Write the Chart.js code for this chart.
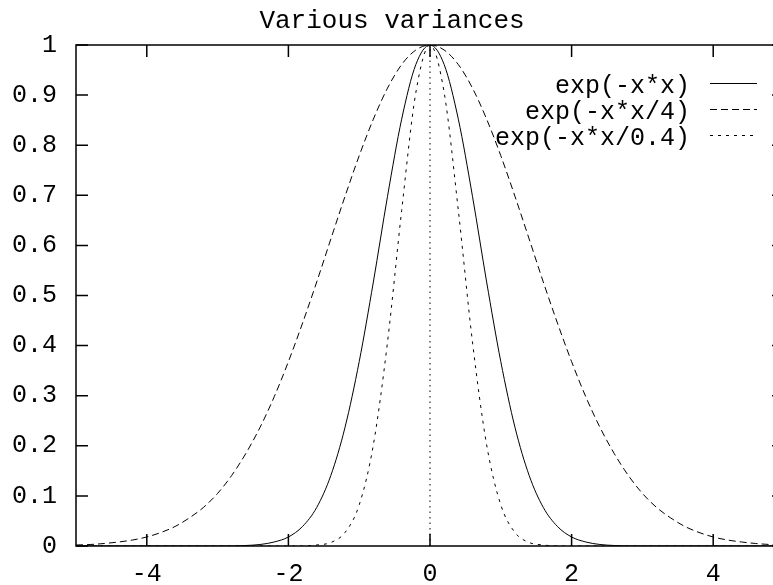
<!DOCTYPE html>
<html>
<head>
<meta charset="utf-8">
<title>Various variances</title>
<script src="https://cdn.jsdelivr.net/npm/chart.js@4.4.0/dist/chart.umd.min.js"></script>
<style>
    html, body { margin: 0; padding: 0; background: #fff; overflow: hidden; }
    #wrap { width: 800px; height: 585px; }
</style>
</head>
<body>
<div id="wrap"><canvas id="grafico" width="800" height="585"></canvas></div>
<script>
// x positions sampled every 0.2 from -5 to 5
const xValores = [-5, -4.8, -4.6, -4.4, -4.2, -4, -3.8, -3.6, -3.4, -3.2, -3, -2.8, -2.6, -2.4, -2.2, -2, -1.8, -1.6, -1.4, -1.2, -1, -0.8, -0.6, -0.4, -0.2,
    0, 0.2, 0.4, 0.6, 0.8, 1, 1.2, 1.4, 1.6, 1.8, 2, 2.2, 2.4, 2.6, 2.8, 3, 3.2, 3.4, 3.6, 3.8, 4, 4.2, 4.4, 4.6, 4.8, 5];

const curvaAncho1 = [0, 0, 0, 0, 0, 0, 0, 0, 0, 0, 0, 0, 0.001, 0.003, 0.008, 0.018, 0.039, 0.077, 0.141, 0.237, 0.368, 0.527, 0.698, 0.852, 0.961,
    1, 0.961, 0.852, 0.698, 0.527, 0.368, 0.237, 0.141, 0.077, 0.039, 0.018, 0.008, 0.003, 0.001, 0, 0, 0, 0, 0, 0, 0, 0, 0, 0, 0, 0];

const curvaAncho4 = [0.002, 0.003, 0.005, 0.008, 0.012, 0.018, 0.027, 0.039, 0.056, 0.077, 0.105, 0.141, 0.185, 0.237, 0.298, 0.368, 0.445, 0.527, 0.613, 0.698, 0.779, 0.852, 0.914, 0.961, 0.990,
    1, 0.990, 0.961, 0.914, 0.852, 0.779, 0.698, 0.613, 0.527, 0.445, 0.368, 0.298, 0.237, 0.185, 0.141, 0.105, 0.077, 0.056, 0.039, 0.027, 0.018, 0.012, 0.008, 0.005, 0.003, 0.002];

const curvaAncho04 = [0, 0, 0, 0, 0, 0, 0, 0, 0, 0, 0, 0, 0, 0, 0, 0, 0, 0.002, 0.007, 0.027, 0.082, 0.202, 0.407, 0.670, 0.905,
    1, 0.905, 0.670, 0.407, 0.202, 0.082, 0.027, 0.007, 0.002, 0, 0, 0, 0, 0, 0, 0, 0, 0, 0, 0, 0, 0, 0, 0, 0, 0];

const etiquetas = ['exp(-x*x)', 'exp(-x*x/4)', 'exp(-x*x/0.4)'];
const titulo = 'Various variances';
const ticksX = [-4, -2, 0, 2, 4];
const ticksY = [0, 0.1, 0.2, 0.3, 0.4, 0.5, 0.6, 0.7, 0.8, 0.9, 1];

const fuente = "'Liberation Mono', 'DejaVu Sans Mono', monospace";

function aPuntos(ys) {
    return xValores.map((x, i) => ({ x: x, y: ys[i] }));
}

// frame, inward ticks, zero axis and the gnuplot style key
const marcoPlugin = {
    id: 'marco',
    beforeDatasetsDraw(chart) {
        const ctx = chart.ctx;
        const x0 = chart.scales.x.getPixelForValue(0);
        ctx.save();
        ctx.strokeStyle = '#000';
        ctx.lineWidth = 1;
        ctx.setLineDash([1.5, 4]);
        ctx.beginPath();
        ctx.moveTo(x0, chart.scales.y.getPixelForValue(0));
        ctx.lineTo(x0, chart.scales.y.getPixelForValue(1));
        ctx.stroke();
        ctx.restore();
    },
    afterDatasetsDraw(chart) {
        const ctx = chart.ctx;
        const { left, right, top, bottom } = chart.chartArea;
        const largo = 12;
        ctx.save();
        ctx.strokeStyle = '#000';
        ctx.lineWidth = 1.5;
        ctx.setLineDash([]);
        ctx.strokeRect(left, top, right - left, bottom - top);

        ctx.beginPath();
        ticksX.forEach(v => {
            const px = chart.scales.x.getPixelForValue(v);
            ctx.moveTo(px, bottom);
            ctx.lineTo(px, bottom - largo);
            ctx.moveTo(px, top);
            ctx.lineTo(px, top + largo);
        });
        ticksY.forEach(v => {
            const py = chart.scales.y.getPixelForValue(v);
            ctx.moveTo(left, py);
            ctx.lineTo(left + largo, py);
            ctx.moveTo(right, py);
            ctx.lineTo(right - largo, py);
        });
        ctx.stroke();

        // key
        ctx.font = '25px ' + fuente;
        ctx.fillStyle = '#000';
        ctx.textAlign = 'right';
        ctx.textBaseline = 'middle';
        chart.data.datasets.forEach((ds, i) => {
            const fila = 83.5 + i * 26;
            ctx.fillText(ds.label, 690, fila + 3);
            ctx.lineWidth = 1;
            ctx.setLineDash(ds.borderDash || []);
            ctx.beginPath();
            ctx.moveTo(710, fila);
            ctx.lineTo(757, fila);
            ctx.stroke();
        });
        ctx.restore();
    }
};

const ctx = document.getElementById('grafico').getContext('2d');

new Chart(ctx, {
    type: 'line',
    data: {
        datasets: [
            {
                label: etiquetas[0],
                data: aPuntos(curvaAncho1),
                borderColor: '#000',
                borderWidth: 1,
                borderDash: []
            },
            {
                label: etiquetas[1],
                data: aPuntos(curvaAncho4),
                borderColor: '#000',
                borderWidth: 1,
                borderDash: [7, 4]
            },
            {
                label: etiquetas[2],
                data: aPuntos(curvaAncho04),
                borderColor: '#000',
                borderWidth: 1,
                borderDash: [3, 5]
            }
        ]
    },
    options: {
        responsive: false,
        animation: false,
        elements: {
            point: { radius: 0 },
            line: { cubicInterpolationMode: 'monotone' }
        },
        layout: {
            padding: { top: 0, right: 16, bottom: 0, left: 0 }
        },
        scales: {
            x: {
                type: 'linear',
                min: -5,
                max: 5,
                grid: { display: false, drawTicks: false },
                border: { display: false },
                afterBuildTicks: scale => { scale.ticks = ticksX.map(v => ({ value: v })); },
                afterFit: scale => { scale.height = 39; },
                ticks: {
                    color: '#000',
                    padding: 13,
                    maxRotation: 0,
                    font: { family: fuente, size: 25 },
                    callback: v => String(v)
                }
            },
            y: {
                min: 0,
                max: 1,
                grid: { display: false, drawTicks: false },
                border: { display: false },
                afterBuildTicks: scale => { scale.ticks = ticksY.map(v => ({ value: v })); },
                afterFit: scale => { scale.width = 76; },
                ticks: {
                    color: '#000',
                    padding: 19,
                    font: { family: fuente, size: 25 },
                    callback: v => String(Math.round(v * 10) / 10)
                }
            }
        },
        plugins: {
            legend: { display: false },
            tooltip: { enabled: false },
            title: {
                display: true,
                text: titulo,
                color: '#000',
                font: { family: fuente, size: 26, weight: 'normal', lineHeight: 1.2 },
                padding: { top: 6, bottom: 7.8 }
            }
        }
    },
    plugins: [marcoPlugin]
});
</script>
</body>
</html>
